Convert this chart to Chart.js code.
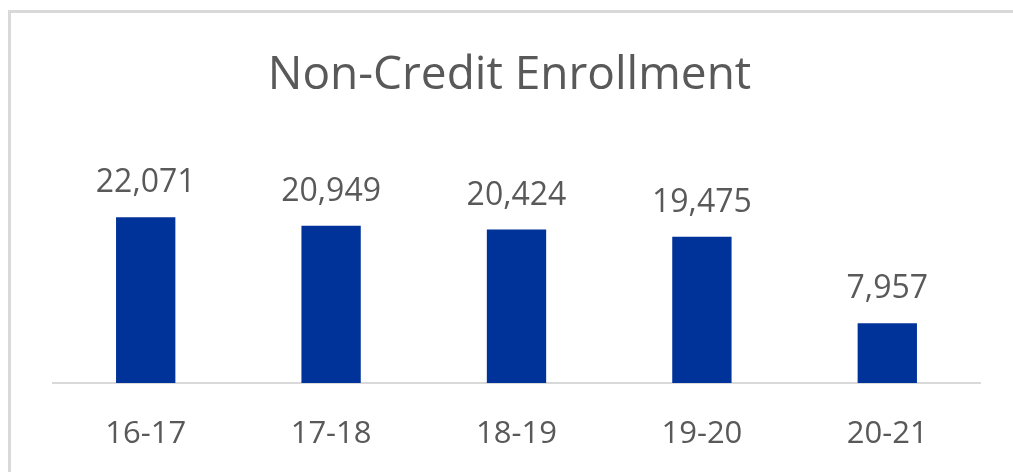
<!DOCTYPE html>
<html>
<head>
<meta charset="utf-8">
<script src="https://cdn.jsdelivr.net/npm/chart.js@4.4.1/dist/chart.umd.min.js"></script>
<style>
  html, body { margin: 0; padding: 0; background: #fff; overflow: hidden; }
  #frame { position: absolute; left: 8px; top: 10px; width: 1100px; height: 600px;
           border-left: 3px solid #d9d9d9; border-top: 3px solid #d9d9d9; }
  #chart { position: absolute; left: 0; top: 0; }
</style>
</head>
<body>
<div id="frame"></div>
<canvas id="chart" width="1013" height="472"></canvas>
<script>
const years = ['16-17', '17-18', '18-19', '19-20', '20-21'];
const enrollment = [22071, 20949, 20424, 19475, 7957];

const textGray = '#595959';

// labels above each bar
const barValues = {
  id: 'barValues',
  afterDatasetsDraw(chart) {
    const ctx = chart.ctx;
    const meta = chart.getDatasetMeta(0);
    ctx.save();
    ctx.font = '32px "Open Sans"';
    ctx.fillStyle = textGray;
    ctx.textAlign = 'center';
    ctx.textBaseline = 'alphabetic';
    meta.data.forEach((bar, i) => {
      ctx.fillText(enrollment[i].toLocaleString('en-US'), bar.x, bar.y - 25);
    });
    ctx.restore();
  }
};

new Chart(document.getElementById('chart'), {
  type: 'bar',
  data: {
    labels: years,
    datasets: [{
      data: enrollment,
      backgroundColor: '#003399',
      categoryPercentage: 1,
      barPercentage: 0.32
    }]
  },
  options: {
    responsive: false,
    animation: false,
    layout: { padding: { left: 39, right: 33, top: 20, bottom: 8 } },
    scales: {
      x: {
        grid: { display: false, drawTicks: false },
        border: { color: '#d9d9d9', width: 2 },
        ticks: { color: textGray, font: { family: 'Open Sans', size: 31 }, padding: 33 },
        afterFit(scale) { scale.height = 81; }
      },
      y: {
        min: 0,
        max: 25000,
        grid: { display: false, drawTicks: false },
        border: { display: false },
        ticks: { display: false },
        afterFit(scale) { scale.width = 14; }
      }
    },
    plugins: {
      legend: { display: false },
      tooltip: { enabled: false },
      title: {
        display: true,
        text: 'Non-Credit Enrollment',
        color: textGray,
        font: { family: 'Open Sans', size: 46, weight: 'normal' },
        padding: { top: 28, bottom: 92 }
      }
    }
  },
  plugins: [barValues]
});
</script>
</body>
</html>
